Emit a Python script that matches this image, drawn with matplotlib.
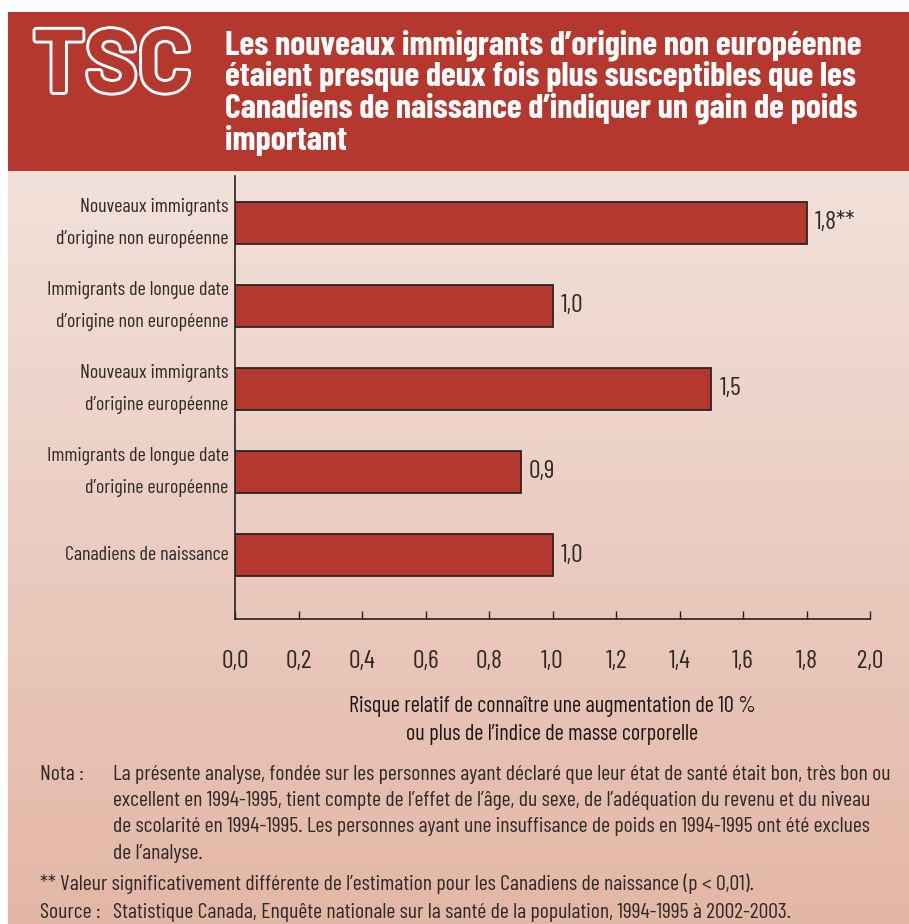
import numpy as np
import matplotlib
matplotlib.use("Agg")
import matplotlib.pyplot as plt
from matplotlib.patches import Rectangle
import matplotlib.patheffects as pe

# ---- data ----
categories = [
    "Nouveaux immigrants\nd’origine non européenne",
    "Immigrants de longue date\nd’origine non européenne",
    "Nouveaux immigrants\nd’origine européenne",
    "Immigrants de longue date\nd’origine européenne",
    "Canadiens de naissance",
]
risk_ratios = [1.8, 1.0, 1.5, 0.9, 1.0]
significance = ["**", "", "", "", ""]
x_ticks = [0.0, 0.2, 0.4, 0.6, 0.8, 1.0, 1.2, 1.4, 1.6, 1.8, 2.0]
x_tick_labels = ["0,0", "0,2", "0,4", "0,6", "0,8", "1,0", "1,2", "1,4", "1,6", "1,8", "2,0"]

title_lines = [
    "Les nouveaux immigrants d’origine non européenne",
    "étaient presque deux fois plus susceptibles que les",
    "Canadiens de naissance d’indiquer un gain de poids",
    "important",
]
x_label = "Risque relatif de connaître une augmentation de 10 %\nou plus de l’indice de masse corporelle"
note_lines = [
    "La présente analyse, fondée sur les personnes ayant déclaré que leur état de santé était bon, très bon ou",
    "excellent en 1994-1995, tient compte de l’effet de l’âge, du sexe, de l’adéquation du revenu et du niveau",
    "de scolarité en 1994-1995. Les personnes ayant une insuffisance de poids en 1994-1995 ont été exclues",
    "de l’analyse.",
]
signif_note = "** Valeur significativement différente de l’estimation pour les Canadiens de naissance (p < 0,01)."
source_text = "Statistique Canada, Enquête nationale sur la santé de la population, 1994-1995 à 2002-2003."

# ---- style ----
RED = "#b5382e"
INK = "#2e2a28"
COND = ["Barlow Condensed", "Barlow Semi Condensed", "DejaVu Sans"]
WIDE = ["Barlow", "Barlow Semi Condensed", "DejaVu Sans"]
plt.rcParams["font.family"] = COND

W, H = 909, 924
fig = plt.figure(figsize=(W / 100, H / 100), dpi=100)
fig.patch.set_facecolor("white")


def fx(px):
    return px / W


def fy(py):
    return 1 - py / H


# background panel with vertical gradient
bg = fig.add_axes([fx(8), 0, 1 - fx(8), fy(171)])
top_c = np.array([242, 225, 218]) / 255
bot_c = np.array([227, 183, 166]) / 255
t = np.linspace(0, 1, 256)[:, None]
grad = top_c[None, :] * (1 - t) + bot_c[None, :] * t
bg.imshow(grad[:, None, :], aspect="auto", extent=[0, 1, 0, 1])
bg.set_axis_off()

# header band
fig.patches.append(Rectangle((fx(8), fy(171)), 1 - fx(8), fy(12) - fy(171),
                             transform=fig.transFigure, facecolor=RED,
                             edgecolor="none", zorder=1))

# outlined logo
fig.text(fx(33), fy(92), "TSC", fontsize=64, fontweight="bold", color=RED,
         ha="left", va="baseline", family=WIDE,
         path_effects=[pe.Stroke(linewidth=4.2, foreground="white"), pe.Normal()])

for i, line in enumerate(title_lines):
    fig.text(fx(225), fy(45 + i * 31.7), line, fontsize=24.5, fontweight="bold",
             color="white", ha="left", va="center", family=COND)

# ---- bar chart ----
ax = fig.add_axes([fx(235), fy(619), fx(870) - fx(235), fy(176) - fy(619)])
ax.patch.set_alpha(0)
y = np.arange(len(categories))
ax.barh(y, risk_ratios, height=0.5, color=RED, edgecolor="#2a2624", linewidth=1.3)
ax.set_xlim(0, 2.0)
ax.set_ylim(len(categories) - 1 + 0.771, -0.566)

for spine in ("top", "right"):
    ax.spines[spine].set_visible(False)
for spine in ("left", "bottom"):
    ax.spines[spine].set_color("#222222")
    ax.spines[spine].set_linewidth(1.2)

ax.set_xticks(x_ticks)
ax.set_xticklabels(x_tick_labels)
ax.tick_params(axis="x", direction="in", length=6, width=1.0, color="#222222",
               pad=22.5, labelsize=18.5, labelcolor=INK)
ax.set_yticks(y)
ax.set_yticklabels(categories)
ax.tick_params(axis="y", length=0, pad=4.5, labelsize=14.4, labelcolor=INK)
for lab in ax.get_yticklabels():
    lab.set_linespacing(2.05)
    lab.set_verticalalignment("center")

for yi, v, s in zip(y, risk_ratios, significance):
    ax.annotate(f"{v:.1f}".replace(".", ",") + s, (v, yi), xytext=(6, 0),
                textcoords="offset points", va="center", ha="left",
                fontsize=18.5, color=INK)

ax.set_xlabel(x_label, fontsize=16, color="#1a1716", labelpad=16.5, linespacing=1.4)

# ---- notes ----
NOTE_FS = 15.7
fig.text(fx(40), fy(774), "Nota :", fontsize=NOTE_FS, color=INK, va="center")
for i, line in enumerate(note_lines):
    fig.text(fx(113), fy(774 + i * 26.4), line, fontsize=NOTE_FS, color=INK, va="center")
fig.text(fx(40), fy(884), signif_note, fontsize=NOTE_FS, color=INK, va="center")
fig.text(fx(40), fy(912), "Source :", fontsize=NOTE_FS, color=INK, va="center")
fig.text(fx(113), fy(912), source_text, fontsize=NOTE_FS, color=INK, va="center")

fig.savefig("out.png", dpi=100)
